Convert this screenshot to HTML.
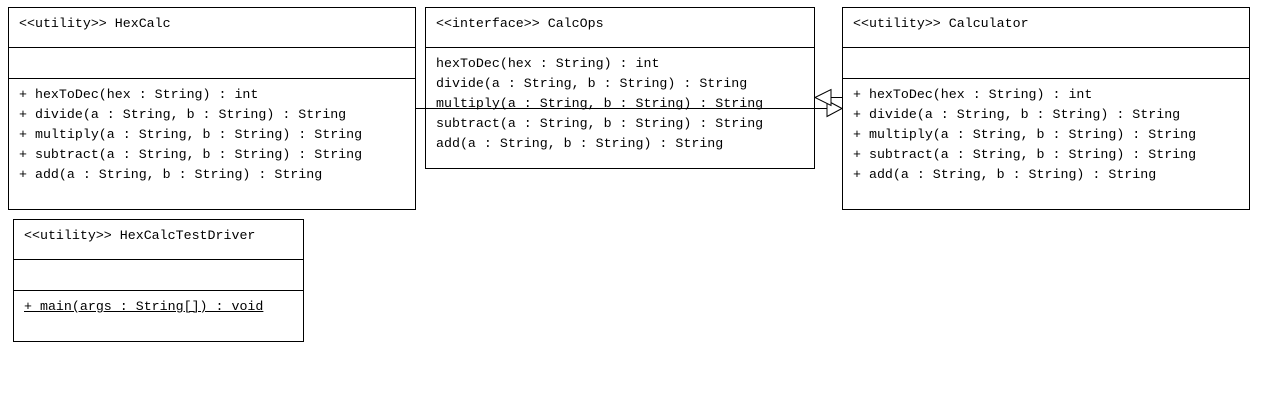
<!DOCTYPE html>
<html><head><style>
body{margin:0;width:1261px;height:406px;background:#fff;position:relative;overflow:hidden;font-family:"Liberation Mono",monospace;font-size:13.3px;color:#000}
.b{position:absolute;border:1px solid #000;box-sizing:border-box}
.d{position:absolute;left:0;right:0;border-top:1px solid #000}
.t{position:absolute;left:10px;white-space:pre;line-height:20px}
</style></head><body>
<div class="b" style="left:8px;top:7px;width:408px;height:203px">
<div class="t" style="top:6px">&lt;&lt;utility&gt;&gt; HexCalc</div>
<div class="d" style="top:39px"></div><div class="d" style="top:70px"></div>
<div class="t" style="top:77px">+ hexToDec(hex : String) : int
+ divide(a : String, b : String) : String
+ multiply(a : String, b : String) : String
+ subtract(a : String, b : String) : String
+ add(a : String, b : String) : String</div>
</div>
<div class="b" style="left:425px;top:7px;width:390px;height:162px">
<div class="t" style="top:6px">&lt;&lt;interface&gt;&gt; CalcOps</div>
<div class="d" style="top:39px"></div>
<div class="t" style="top:46px">hexToDec(hex : String) : int
divide(a : String, b : String) : String
multiply(a : String, b : String) : String
subtract(a : String, b : String) : String
add(a : String, b : String) : String</div>
</div>
<div class="b" style="left:842px;top:7px;width:408px;height:203px">
<div class="t" style="top:6px">&lt;&lt;utility&gt;&gt; Calculator</div>
<div class="d" style="top:39px"></div><div class="d" style="top:70px"></div>
<div class="t" style="top:77px">+ hexToDec(hex : String) : int
+ divide(a : String, b : String) : String
+ multiply(a : String, b : String) : String
+ subtract(a : String, b : String) : String
+ add(a : String, b : String) : String</div>
</div>
<div class="b" style="left:13px;top:219px;width:291px;height:123px">
<div class="t" style="top:6px">&lt;&lt;utility&gt;&gt; HexCalcTestDriver</div>
<div class="d" style="top:39px"></div><div class="d" style="top:70px"></div>
<div class="t" style="top:77px"><u>+ main(args : String[]) : void</u></div>
</div>
<svg width="1261" height="406" style="position:absolute;left:0;top:0" shape-rendering="crispEdges">
<line x1="415" y1="108.5" x2="827" y2="108.5" stroke="#000"/>
<polygon points="842,108.5 827,100.5 827,116.5" fill="#fff" stroke="#000" shape-rendering="auto"/>
<line x1="831" y1="97.5" x2="842" y2="97.5" stroke="#000"/>
<polygon points="815,97.5 831,89.5 831,105.5" fill="#fff" stroke="#000" shape-rendering="auto"/>
</svg>
</body></html>
